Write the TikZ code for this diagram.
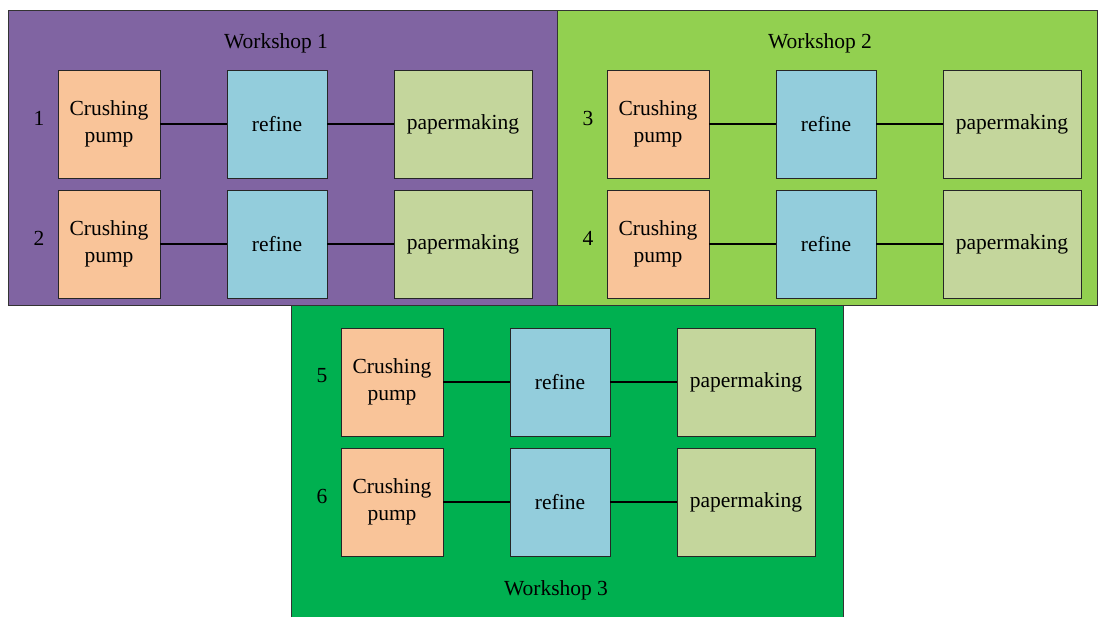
\documentclass[tikz,border=0pt]{standalone}
\usepackage{fontspec}
\setmainfont{Liberation Serif}
\definecolor{wsA}{HTML}{8064A2}
\definecolor{wsB}{HTML}{92D050}
\definecolor{wsC}{HTML}{00B050}
\definecolor{pumpc}{HTML}{F9C499}
\definecolor{refc}{HTML}{93CDDC}
\definecolor{paperc}{HTML}{C4D69C}
\begin{document}
\begin{tikzpicture}[x=1pt,y=-1pt,
  every node/.style={font=\fontsize{21.5}{26.5}\selectfont, inner sep=0pt},
  wsbox/.style={draw=black!80, line width=0.8pt},
  unit/.style={draw=black!85, line width=0.8pt, minimum height=108pt, align=center},
  pumpbox/.style={unit, fill=pumpc, minimum width=102pt},
  refbox/.style={unit, fill=refc, minimum width=100pt},
  paperbox/.style={unit, fill=paperc, minimum width=138pt},
  link/.style={draw=black, line width=1.3pt},
  numlab/.style={}]
\useasboundingbox (0,0) rectangle (1100,616);
% workshop backgrounds
\path[wsbox, fill=wsA] (8,10) rectangle (557,305);
\path[wsbox, fill=wsB] (557,10) rectangle (1097,305);
\fill[wsC] (291,305) rectangle (843,620);
\draw[black!80, line width=0.8pt] (291,620) -- (291,305) -- (843,305) -- (843,620);
\node (t1) at (276,43) {Workshop 1};
\node (t2) at (820,43) {Workshop 2};
\node (t3) at (556,590) {Workshop 3};
% rows
\foreach \n/\x/\y in {1/8/124, 2/8/244, 3/557/124, 4/557/244, 5/291/382, 6/291/502}{
  \node[numlab] (n\n) at (\x+31,\y-6) {\n};
  \node[pumpbox] (p\n) at (\x+101,\y) {Crushing\\pump};
  \node[refbox] (r\n) at (\x+269,\y) {refine};
  \node[paperbox] (m\n) at (\x+455,\y) {\raisebox{-1.5pt}{papermaking}};
  \draw[link] (p\n) -- (r\n);
  \draw[link] (r\n) -- (m\n);
}
\end{tikzpicture}
\end{document}
